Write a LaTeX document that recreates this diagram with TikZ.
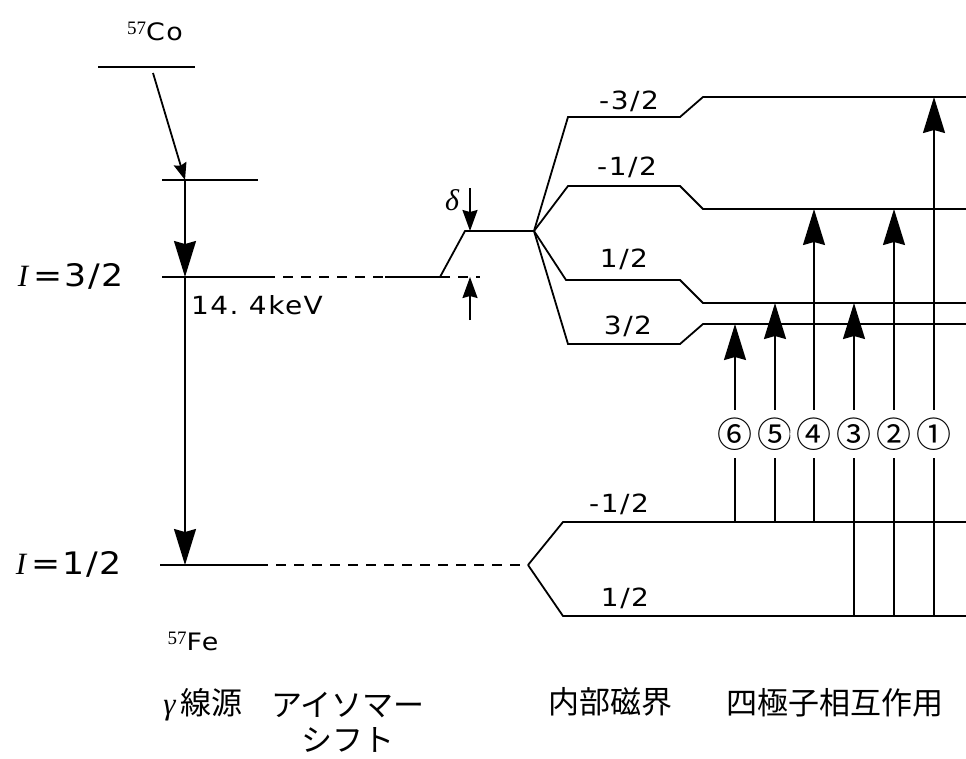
\documentclass[tikz,border=0pt]{standalone}
\usepackage{fontspec}
\setmainfont{DejaVu Sans}[FakeStretch=1.12,LetterSpace=6]
\newfontfamily\serifit{Liberation Serif}[ItalicFont=* Italic]
\newfontfamily\jpfont{Noto Sans CJK JP}
\usetikzlibrary{arrows.meta}

\tikzset{
  lvl/.style={line width=1.8pt},
  dashlvl/.style={lvl,dash pattern=on 10pt off 8pt},
  decay/.style={lvl,-{Stealth[length=36pt,width=22pt,inset=3pt]}},
  feed/.style={lvl,-{Stealth[length=17pt,width=13pt,inset=2pt]}},
  shiftarr/.style={lvl,-{Stealth[length=21pt,width=15pt,inset=2pt]}},
  mlabel/.style={font=\fontsize{25}{28}\selectfont},
  jplabel/.style={font=\jpfont\fontsize{31}{35}\selectfont,align=center},
  ring/.style={circle,fill=white,inner sep=0pt,minimum size=30pt,
    font=\jpfont\fontsize{35}{35}\selectfont},
}

\begin{document}
\begin{tikzpicture}[x=1pt,y=-1pt]
    \useasboundingbox (0,0) rectangle (966,758);

    % source and excited levels
    \coordinate (C1) at (98,67);
    \coordinate (C2) at (195,67);
    \coordinate (Cd) at (153,73);
    \coordinate (P1) at (162,180);
    \coordinate (P2) at (258,180);
    \coordinate (Pd) at (185,180);
    \coordinate (Q1) at (162,277);
    \coordinate (Q2) at (265,277);
    \coordinate (Qd) at (185,277);
    \coordinate (G1) at (160,565);
    \coordinate (G2) at (258,565);
    \coordinate (Gd) at (185,565);

    \draw[lvl] (C1) -- (C2);
    \draw[lvl] (P1) -- (P2);
    \draw[lvl] (Q1) -- (Q2);
    \draw[lvl] (G1) -- (G2);
    \draw[feed] (Cd) -- (Pd);
    \draw[decay] (Pd) -- (Qd);
    \draw[decay] (Qd) -- (Gd);

    % isomer shift
    \coordinate (Q3) at (385,277);
    \coordinate (Q4) at (440,277);
    \coordinate (Q5) at (480,277);
    \coordinate (S) at (465,231);
    \coordinate (T) at (534,231);
    \coordinate (D1) at (470,188);
    \coordinate (D2) at (470,231);
    \coordinate (D3) at (470,320);
    \coordinate (D4) at (470,277);

    \draw[dashlvl] (Q2) -- (Q3);
    \draw[lvl] (Q3) -- (Q4) -- (S) -- (T);
    \draw[dashlvl] (Q4) -- (Q5);
    \draw[shiftarr] (D1) -- (D2);
    \draw[shiftarr] (D3) -- (D4);

    % excited state splitting
    \coordinate (M1a) at (568,117);
    \coordinate (M1b) at (680,117);
    \coordinate (M1c) at (703,97);
    \coordinate (M1d) at (966,97);
    \coordinate (M2a) at (568,186);
    \coordinate (M2b) at (680,186);
    \coordinate (M2c) at (703,209);
    \coordinate (M2d) at (966,209);
    \coordinate (M3a) at (566,280);
    \coordinate (M3b) at (680,280);
    \coordinate (M3c) at (703,303);
    \coordinate (M3d) at (966,303);
    \coordinate (M4a) at (568,344);
    \coordinate (M4b) at (680,344);
    \coordinate (M4c) at (703,324);
    \coordinate (M4d) at (966,324);

    \draw[lvl] (T) -- (M1a) -- (M1b) -- (M1c) -- (M1d);
    \draw[lvl] (T) -- (M2a) -- (M2b) -- (M2c) -- (M2d);
    \draw[lvl] (T) -- (M3a) -- (M3b) -- (M3c) -- (M3d);
    \draw[lvl] (T) -- (M4a) -- (M4b) -- (M4c) -- (M4d);

    % ground state splitting
    \coordinate (G3) at (528,565);
    \coordinate (L1a) at (563,522);
    \coordinate (L1b) at (966,522);
    \coordinate (L2a) at (563,616);
    \coordinate (L2b) at (966,616);

    \draw[dashlvl] (G2) -- (G3);
    \draw[lvl] (G3) -- (L1a) -- (L1b);
    \draw[lvl] (G3) -- (L2a) -- (L2b);

    % transitions
    \coordinate (t6a) at (735,522);
    \coordinate (t6b) at (735,324);
    \coordinate (t5a) at (775,522);
    \coordinate (t5b) at (775,303);
    \coordinate (t4a) at (814,522);
    \coordinate (t4b) at (814,209);
    \coordinate (t3a) at (854,616);
    \coordinate (t3b) at (854,303);
    \coordinate (t2a) at (894,616);
    \coordinate (t2b) at (894,209);
    \coordinate (t1a) at (934,616);
    \coordinate (t1b) at (934,97);

    \node[ring] (r6) at (735,434) {⑥};
    \node[ring] (r5) at (775,434) {⑤};
    \node[ring] (r4) at (814,434) {④};
    \node[ring] (r3) at (854,434) {③};
    \node[ring] (r2) at (894,434) {②};
    \node[ring] (r1) at (934,434) {①};

    \draw[lvl] (t6a) -- (r6);
    \draw[decay] (r6) -- (t6b);
    \draw[lvl] (t5a) -- (r5);
    \draw[decay] (r5) -- (t5b);
    \draw[lvl] (t4a) -- (r4);
    \draw[decay] (r4) -- (t4b);
    \draw[lvl] (t3a) -- (r3);
    \draw[decay] (r3) -- (t3b);
    \draw[lvl] (t2a) -- (r2);
    \draw[decay] (r2) -- (t2b);
    \draw[lvl] (t1a) -- (r1);
    \draw[decay] (r1) -- (t1b);

    % labels
    \node[font=\fontsize{24}{28}\selectfont] (co) at (155,31) {{\serifit\fontsize{19}{19}\selectfont\raisebox{6pt}{57}}Co};
    \node[font=\fontsize{24}{28}\selectfont] (fe) at (193,641) {{\serifit\fontsize{19}{19}\selectfont\raisebox{6pt}{57}}Fe};
    \node[font=\fontsize{31}{34}\selectfont] (ihi) at (71,276) {{\serifit\itshape I}\,=3/2};
    \node[font=\fontsize{31}{34}\selectfont] (ilo) at (69,564) {{\serifit\itshape I}\,=1/2};
    \node[font=\fontsize{25}{30}\selectfont] (kev) at (257,305) {14.\ 4keV};
    \node[font=\serifit\itshape\fontsize{30}{30}\selectfont] (dl) at (452,200) {δ};
    \node[mlabel] (m1) at (629,101) {-3/2};
    \node[mlabel] (m2) at (627,167) {-1/2};
    \node[mlabel] (m3) at (624,259) {1/2};
    \node[mlabel] (m4) at (628,326) {3/2};
    \node[mlabel] (g1) at (619,504) {-1/2};
    \node[mlabel] (g2) at (625,598) {1/2};
    \node[jplabel] (src) at (203,705) {{\serifit\itshape γ}\,線源};
    \node[jplabel] (iso) at (348,722) {アイソマー\\シフト};
    \node[jplabel] (mag) at (610,702) {内部磁界};
    \node[jplabel] (quad) at (835,703) {四極子相互作用};
\end{tikzpicture}
\end{document}
